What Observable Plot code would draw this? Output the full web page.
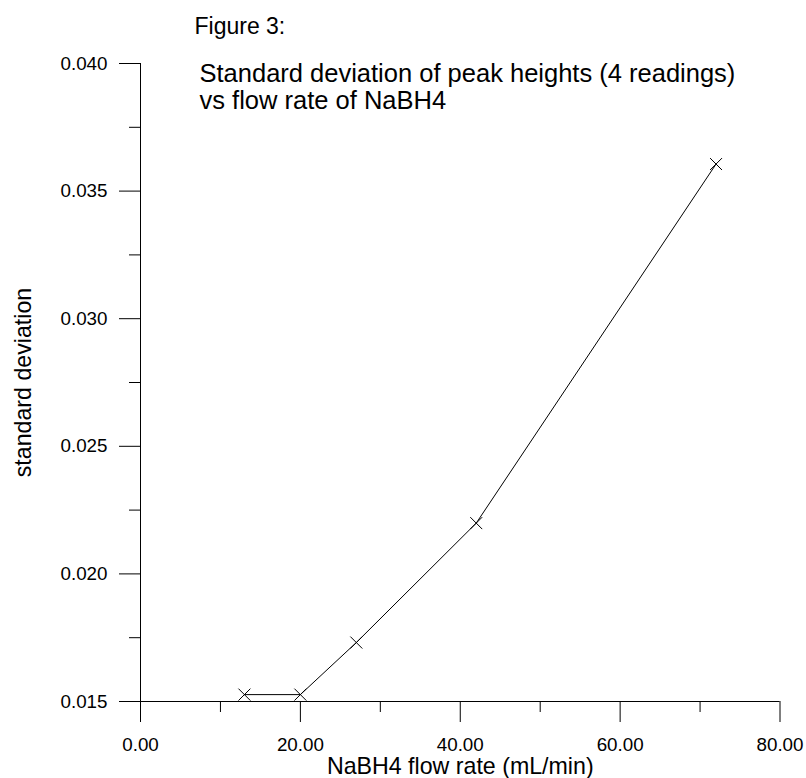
<!DOCTYPE html>
<html>
<head>
<meta charset="utf-8">
<script src="https://cdn.jsdelivr.net/npm/d3@7"></script>
<script src="https://cdn.jsdelivr.net/npm/@observablehq/plot@0.6"></script>
<style>
  html, body { margin: 0; padding: 0; background: #fff; }
</style>
</head>
<body>
<div id="chart"></div>
<script>
// NaBH4 flow rate (mL/min) and standard deviation of four peak-height readings
const flowRate = [13, 20, 27, 42, 72];
const stdDev = [0.01527, 0.01527, 0.01731, 0.02199, 0.03606];

// Axis ticks
const xMajorTicks = [0, 20, 40, 60, 80];
const xMinorTicks = [10, 30, 50, 70];
const yMajorTicks = [0.015, 0.020, 0.025, 0.030, 0.035, 0.040];
const yMinorTicks = [0.0175, 0.0225, 0.0275, 0.0325, 0.0375];

const figureLabel = "Figure 3:";
const titleText = "Standard deviation of peak heights (4 readings)\nvs flow rate of NaBH4";
const xLabel = "NaBH4 flow rate (mL/min)";
const yLabel = "standard deviation";

const points = flowRate.map((x, i) => ({x, y: stdDev[i]}));

const font = "'Liberation Sans', Arial, Helvetica, sans-serif";

const chart = Plot.plot({
  width: 806,
  height: 778,
  marginLeft: 140,
  marginRight: 26.5,
  marginTop: 63,
  marginBottom: 77,
  style: {fontFamily: font, color: "black", background: "white"},
  x: {domain: [0, 80], label: null},
  y: {domain: [0.015, 0.040], label: null},
  marks: [
    // axis lines
    Plot.ruleX([0], {stroke: "black", strokeWidth: 1}),
    Plot.ruleY([0.015], {stroke: "black", strokeWidth: 1}),
    // major and minor ticks
    Plot.axisX({ticks: xMajorTicks, label: null, tickSize: 21, tickPadding: 15, tickFormat: d3.format(".2f"), fontSize: 18.8, stroke: "black", strokeOpacity: 1}),
    Plot.axisX({ticks: xMinorTicks, label: null, tickSize: 11, tickFormat: () => "", stroke: "black", strokeOpacity: 1}),
    Plot.axisY({ticks: yMajorTicks, label: null, tickSize: 21, tickPadding: 12, tickFormat: d3.format(".3f"), fontSize: 18.8, stroke: "black", strokeOpacity: 1}),
    Plot.axisY({ticks: yMinorTicks, label: null, tickSize: 11, tickFormat: () => "", stroke: "black", strokeOpacity: 1}),
    // data
    Plot.line(points, {x: "x", y: "y", stroke: "black", strokeWidth: 1}),
    Plot.dot(points, {x: "x", y: "y", symbol: "times", r: 5.5, stroke: "black", strokeWidth: 1}),
    // texts
    Plot.text([figureLabel], {frameAnchor: "top-left", textAnchor: "start", lineAnchor: "bottom", dx: 54, dy: -30, fontSize: 23, fill: "black"}),
    Plot.text([titleText], {frameAnchor: "top-left", textAnchor: "start", lineAnchor: "bottom", dx: 59, dy: 45.3, fontSize: 25.5, lineHeight: 1.04, fill: "black"}),
    Plot.text([xLabel], {frameAnchor: "bottom", textAnchor: "middle", lineAnchor: "bottom", dy: 72.5, fontSize: 23.2, fill: "black"}),
    Plot.text([yLabel], {frameAnchor: "left", textAnchor: "middle", lineAnchor: "bottom", rotate: -90, dx: -110, fontSize: 23.2, fill: "black"})
  ]
});

document.getElementById("chart").appendChild(chart);
</script>
</body>
</html>
